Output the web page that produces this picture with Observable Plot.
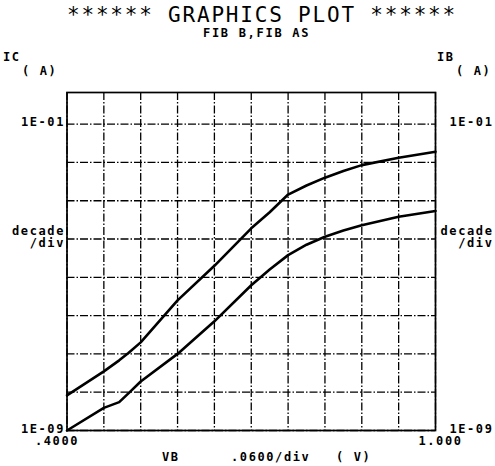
<!DOCTYPE html>
<html>
<head>
<meta charset="utf-8">
<script src="https://cdn.jsdelivr.net/npm/d3@7"></script>
<script src="https://cdn.jsdelivr.net/npm/@observablehq/plot@0.6"></script>
<style>
  html, body { margin: 0; padding: 0; background: #fff; }
  #wrap { position: relative; width: 495px; height: 466px; overflow: hidden; font-family: "DejaVu Sans Mono", monospace; color: #000; }
  .lbl { position: absolute; white-space: pre; font-weight: bold; font-size: 12px; line-height: 12px; letter-spacing: 1.6px; }
  #title { position: absolute; left: 67px; top: 5px; font-size: 21px; line-height: 21px; letter-spacing: 1.8px; white-space: pre; }
  #sub { position: absolute; left: 203px; top: 27px; font-size: 12px; line-height: 12px; font-weight: bold; letter-spacing: 1.7px; white-space: pre; }
</style>
</head>
<body>
<div id="wrap">
  <div id="chart"></div>
  <div id="title">****** GRAPHICS PLOT ******</div>
  <div id="sub">FIB B,FIB AS</div>
  <div class="lbl" style="left:3px;top:51px">IC</div>
  <div class="lbl" style="left:22px;top:65px">( A)</div>
  <div class="lbl" style="left:437px;top:51px">IB</div>
  <div class="lbl" style="left:456px;top:65px">( A)</div>
  <div class="lbl" style="left:162px;top:451px">VB</div>
  <div class="lbl" style="left:231px;top:451px">.0600/div</div>
  <div class="lbl" style="left:336px;top:451px">( V)</div>
</div>
<script>
// VB sweep (V)
const vb = [0.40, 0.46, 0.485, 0.50, 0.52, 0.58, 0.64, 0.70, 0.73, 0.76, 0.79, 0.82, 0.85, 0.88, 0.94, 1.00];
// Collector current IC (A)
const ic = [8.3e-9, 3.5e-8, 6.8e-8, 1.05e-7, 2.0e-7, 2.5e-6, 2.0e-5, 1.9e-4, 5.0e-4, 1.45e-3, 2.5e-3, 4.0e-3, 6.0e-3, 8.5e-3, 1.32e-2, 1.9e-2];
// Base current IB (A)
const ib = [1.0e-9, 3.9e-9, 5.5e-9, 9.3e-9, 1.9e-8, 1.0e-7, 7.1e-7, 6.2e-6, 1.6e-5, 3.8e-5, 7.1e-5, 1.15e-4, 1.66e-4, 2.3e-4, 3.8e-4, 5.4e-4];

// axis limits, grid and ticks
const xDomain = [0.4, 1.0];
const yDomain = [1e-9, 0.67];
const xGrid = [0.40, 0.46, 0.52, 0.58, 0.64, 0.70, 0.76, 0.82, 0.88, 0.94, 1.00];
const yGrid = [1e-9, 1e-8, 1e-7, 1e-6, 1e-5, 1e-4, 1e-3, 1e-2, 1e-1];
const yTicks = [1e-9, 1e-4, 1e-1];
const yTickLabels = ["1E-09", "decade\n/div", "1E-01"];
const xTickLeft = [0.40], xLabelLeft = ".4000";
const xTickRight = [1.00], xLabelRight = "1.000";

const icData = vb.map((v, i) => ({v, I: ic[i]}));
const ibData = vb.map((v, i) => ({v, I: ib[i]}));

const yFmt = d => yTickLabels[yTicks.findIndex(t => Math.abs(Math.log10(t) - Math.log10(d)) < 1e-6)];

const chart = Plot.plot({
  width: 495,
  height: 466,
  marginLeft: 66.5,
  marginRight: 60,
  marginTop: 92,
  marginBottom: 36,
  style: {fontFamily: "DejaVu Sans Mono, monospace", fontSize: "12px", fontWeight: "bold", letterSpacing: "1.6px", background: "#fff", color: "#000"},
  x: {domain: xDomain},
  y: {type: "log", domain: yDomain},
  marks: [
    Plot.ruleX(xGrid, {stroke: "#000", strokeWidth: 1.3, strokeDasharray: "8,2,1.5,2"}),
    Plot.ruleY(yGrid, {stroke: "#000", strokeWidth: 1.3, strokeDasharray: "8,2,1.5,2"}),
    Plot.frame({stroke: "#000", strokeWidth: 1.7}),
    Plot.axisY({anchor: "left", ticks: yTicks, tickFormat: yFmt, tickSize: 0, tickPadding: 2, dy: -2, label: null, lineHeight: 1.05}),
    Plot.axisY({anchor: "right", ticks: yTicks, tickFormat: yFmt, tickSize: 0, tickPadding: 0, textAnchor: "end", dx: 58, dy: -2, label: null, lineHeight: 1.05}),
    Plot.axisX({ticks: xTickLeft, tickFormat: () => xLabelLeft, tickSize: 0, tickPadding: 6, dx: -10, label: null}),
    Plot.axisX({ticks: xTickRight, tickFormat: () => xLabelRight, tickSize: 0, tickPadding: 6, dx: 5, label: null}),
    Plot.line(icData, {x: "v", y: "I", stroke: "#000", strokeWidth: 2.6}),
    Plot.line(ibData, {x: "v", y: "I", stroke: "#000", strokeWidth: 2.6})
  ]
});
document.getElementById("chart").appendChild(chart);
</script>
</body>
</html>
